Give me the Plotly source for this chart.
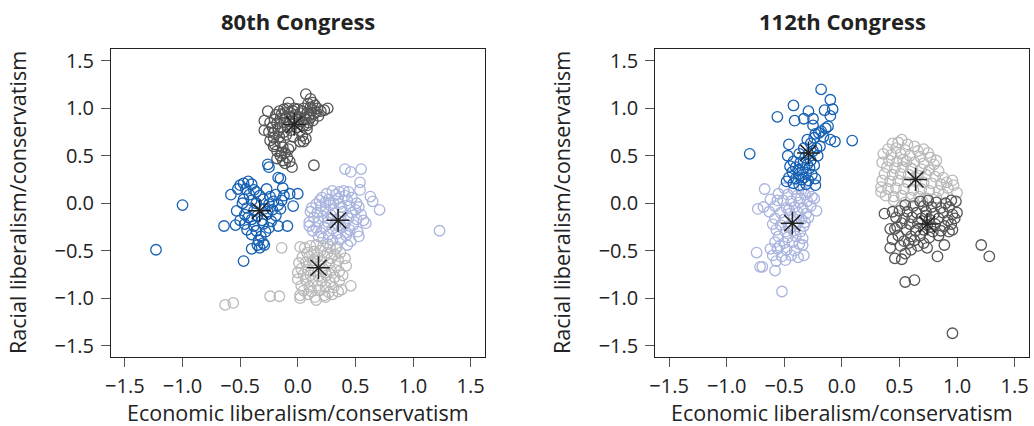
import plotly.graph_objects as go

# ---------------- 80th Congress ----------------
c80_dkgray = [(0.07,1.15),(0.11,1.10),(0.13,1.06),(0.09,1.05),(0.15,1.03),(0.17,1.00),(0.23,0.98),(0.26,1.00),(0.12,0.98),(0.05,1.00),(0.00,0.99),(-0.03,1.00),(-0.08,1.06),(-0.09,1.00),(-0.12,0.99),(-0.16,0.97),(-0.26,0.97),(-0.19,0.93),(-0.14,0.94),(-0.06,0.95),(0.02,0.95),(0.08,0.95),(0.14,0.94),(0.18,0.92),(0.11,0.90),(0.06,0.90),(0.00,0.91),(-0.05,0.90),(-0.10,0.91),(-0.15,0.89),(-0.20,0.88),(-0.29,0.87),(-0.24,0.85),(-0.18,0.84),(-0.12,0.85),(-0.07,0.86),(0.03,0.86),(0.09,0.85),(0.13,0.87),(0.05,0.82),(-0.01,0.80),(-0.09,0.80),(-0.15,0.80),(-0.22,0.80),(-0.29,0.77),(-0.25,0.75),(-0.21,0.74),(-0.17,0.76),(-0.12,0.75),(-0.06,0.77),(0.02,0.76),(0.08,0.78),(0.04,0.71),(0.07,0.68),(0.02,0.65),(0.05,0.65),(-0.04,0.70),(-0.10,0.72),(-0.16,0.70),(-0.21,0.69),(-0.24,0.66),(-0.20,0.62),(-0.21,0.60),(-0.15,0.64),(-0.13,0.59),(-0.08,0.57),(-0.18,0.55),(-0.11,0.53),(-0.15,0.50),(-0.09,0.48),(-0.18,0.47),(-0.13,0.45),(-0.07,0.44),(-0.11,0.42),(-0.05,0.38),(0.14,0.40),(-0.14,0.53),(-0.06,0.60),(0.10,0.93),(0.04,0.97),(-0.02,0.93),(0.07,0.88),(-0.03,0.84),(0.01,0.88),(0.16,0.96),(0.20,0.97),(-0.11,0.95),(-0.04,0.97),(0.11,1.01),(0.08,0.82)]
c80_blue = [(-1.00,-0.02),(-1.23,-0.49),(-0.26,0.41),(-0.25,0.38),(-0.17,0.27),(-0.15,0.26),(-0.43,0.23),(-0.50,0.19),(-0.47,0.21),(-0.40,0.20),(-0.52,0.15),(-0.45,0.15),(-0.38,0.14),(-0.27,0.15),(-0.13,0.16),(-0.58,0.09),(-0.07,0.10),(0.00,0.10),(-0.36,0.12),(-0.42,0.09),(-0.33,0.08),(-0.24,0.07),(-0.19,0.09),(-0.12,0.08),(-0.47,0.04),(-0.40,0.03),(-0.30,0.04),(-0.21,0.02),(-0.14,0.03),(-0.48,0.00),(-0.36,0.00),(-0.25,-0.01),(-0.17,-0.02),(-0.04,-0.03),(-0.53,-0.08),(-0.44,-0.05),(-0.38,-0.08),(-0.29,-0.06),(-0.22,-0.07),(-0.15,-0.06),(-0.46,-0.12),(-0.35,-0.13),(-0.27,-0.12),(-0.19,-0.13),(-0.40,-0.17),(-0.31,-0.18),(-0.23,-0.19),(-0.64,-0.24),(-0.54,-0.23),(-0.46,-0.22),(-0.38,-0.24),(-0.30,-0.22),(-0.25,-0.26),(-0.17,-0.24),(-0.09,-0.24),(-0.44,-0.28),(-0.36,-0.29),(-0.28,-0.30),(-0.40,-0.33),(-0.32,-0.35),(-0.34,-0.39),(-0.30,-0.42),(-0.35,-0.44),(-0.40,-0.48),(-0.47,-0.61),(-0.33,-0.47),(-0.29,-0.44),(-0.26,-0.09),(-0.43,-0.15),(-0.50,-0.18)]
c80_ltblue = [(0.41,0.36),(0.46,0.33),(0.55,0.36),(0.54,0.22),(0.54,0.14),(0.63,0.07),(0.65,0.02),(0.71,-0.07),(1.23,-0.29),(0.30,0.13),(0.36,0.12),(0.40,0.13),(0.44,0.12),(0.25,0.10),(0.33,0.09),(0.41,0.08),(0.19,0.03),(0.27,0.04),(0.35,0.05),(0.43,0.03),(0.51,0.00),(0.12,-0.05),(0.20,-0.03),(0.28,-0.02),(0.36,-0.01),(0.45,-0.03),(0.53,-0.04),(0.11,-0.09),(0.17,-0.10),(0.24,-0.08),(0.31,-0.07),(0.39,-0.09),(0.47,-0.10),(0.55,-0.12),(0.14,-0.15),(0.22,-0.14),(0.29,-0.13),(0.37,-0.15),(0.44,-0.16),(0.51,-0.17),(0.57,-0.18),(0.59,-0.21),(0.10,-0.20),(0.18,-0.19),(0.26,-0.20),(0.33,-0.21),(0.41,-0.22),(0.48,-0.23),(0.10,-0.24),(0.16,-0.26),(0.23,-0.25),(0.30,-0.27),(0.38,-0.26),(0.45,-0.28),(0.52,-0.30),(0.20,-0.31),(0.27,-0.33),(0.34,-0.32),(0.42,-0.34),(0.53,-0.35),(0.22,-0.37),(0.30,-0.39),(0.37,-0.38),(0.46,-0.40),(0.26,-0.43),(0.34,-0.46),(0.43,-0.44),(0.21,0.06),(0.31,0.00),(0.38,-0.04),(0.26,-0.16),(0.35,-0.24),(0.16,-0.01),(0.24,0.01),(0.47,0.06),(0.50,-0.07),(0.42,-0.31),(0.13,-0.29),(0.18,-0.35)]
c80_ltgray = [(-0.14,-0.47),(-0.63,-1.07),(-0.56,-1.05),(-0.24,-0.98),(-0.16,-0.98),(0.02,-0.46),(0.06,-0.47),(0.11,-0.45),(0.16,-0.44),(0.22,-0.45),(0.28,-0.46),(0.33,-0.48),(0.08,-0.52),(0.14,-0.51),(0.20,-0.50),(0.26,-0.52),(0.32,-0.54),(0.37,-0.52),(0.04,-0.57),(0.10,-0.56),(0.17,-0.57),(0.23,-0.56),(0.29,-0.58),(0.35,-0.60),(0.41,-0.58),(0.01,-0.63),(0.07,-0.62),(0.13,-0.63),(0.20,-0.62),(0.27,-0.64),(0.33,-0.66),(0.42,-0.66),(0.03,-0.69),(0.09,-0.70),(0.15,-0.71),(0.22,-0.69),(0.29,-0.71),(0.36,-0.72),(0.05,-0.75),(0.11,-0.76),(0.18,-0.77),(0.25,-0.76),(0.32,-0.78),(0.00,-0.80),(0.07,-0.81),(0.13,-0.82),(0.21,-0.82),(0.28,-0.83),(0.36,-0.82),(0.03,-0.87),(0.10,-0.88),(0.17,-0.87),(0.24,-0.88),(0.31,-0.89),(0.46,-0.87),(0.05,-0.92),(0.12,-0.93),(0.19,-0.92),(0.27,-0.94),(0.35,-0.93),(0.38,-0.91),(0.02,-0.97),(0.09,-0.96),(0.15,-0.99),(0.23,-0.97),(0.30,-0.96),(0.02,-1.00),(0.16,-1.02),(0.24,-0.99),(0.14,-0.60),(0.24,-0.73),(0.39,-0.76),(0.00,-0.73)]
c80_means = [(-0.03,0.83),(-0.33,-0.08),(0.35,-0.18),(0.18,-0.68)]

# ---------------- 112th Congress ----------------
c112_blue = [(-0.18,1.20),(-0.10,1.09),(-0.08,0.99),(-0.15,0.98),(-0.10,0.92),(-0.29,0.97),(-0.42,1.03),(-0.56,0.91),(-0.41,0.87),(-0.33,0.89),(-0.25,0.89),(-0.25,0.82),(-0.14,0.79),(-0.12,0.81),(-0.20,0.74),(-0.18,0.76),(-0.06,0.65),(-0.10,0.67),(0.09,0.66),(-0.80,0.52),(-0.46,0.62),(-0.47,0.50),(-0.19,0.60),(-0.24,0.69),(-0.30,0.67),(-0.23,0.73),(-0.27,0.63),(-0.33,0.58),(-0.37,0.52),(-0.25,0.55),(-0.21,0.50),(-0.32,0.48),(-0.27,0.45),(-0.42,0.44),(-0.36,0.43),(-0.30,0.41),(-0.45,0.39),(-0.40,0.38),(-0.34,0.36),(-0.28,0.37),(-0.24,0.40),(-0.43,0.33),(-0.37,0.31),(-0.31,0.32),(-0.26,0.30),(-0.46,0.27),(-0.40,0.26),(-0.35,0.25),(-0.29,0.24),(-0.23,0.26),(-0.42,0.21),(-0.37,0.19),(-0.31,0.20),(-0.23,0.19),(-0.48,0.23),(-0.33,0.27),(-0.38,0.35),(-0.29,0.52),(-0.22,0.58),(-0.16,0.70)]
c112_ltblue = [(-0.67,0.15),(-0.73,-0.06),(-0.56,0.03),(-0.22,-0.08),(-0.24,0.05),(-0.74,-0.52),(-0.71,-0.67),(-0.69,-0.67),(-0.58,-0.71),(-0.52,-0.93),(-0.62,-0.48),(-0.33,-0.55),(-0.34,-0.44),(-0.50,0.16),(-0.42,0.15),(-0.35,0.14),(-0.29,0.12),(-0.55,0.10),(-0.47,0.09),(-0.39,0.08),(-0.32,0.09),(-0.26,0.07),(-0.62,0.04),(-0.51,0.03),(-0.44,0.02),(-0.37,0.01),(-0.30,0.02),(-0.68,-0.04),(-0.58,-0.03),(-0.48,-0.05),(-0.41,-0.04),(-0.34,-0.05),(-0.27,-0.03),(-0.63,-0.09),(-0.53,-0.10),(-0.45,-0.11),(-0.38,-0.10),(-0.31,-0.11),(-0.58,-0.16),(-0.50,-0.17),(-0.42,-0.16),(-0.35,-0.17),(-0.29,-0.15),(-0.60,-0.22),(-0.53,-0.23),(-0.46,-0.24),(-0.39,-0.22),(-0.33,-0.24),(-0.57,-0.28),(-0.49,-0.30),(-0.42,-0.29),(-0.36,-0.30),(-0.55,-0.35),(-0.47,-0.36),(-0.40,-0.35),(-0.34,-0.37),(-0.58,-0.41),(-0.50,-0.42),(-0.43,-0.41),(-0.37,-0.43),(-0.56,-0.48),(-0.48,-0.49),(-0.41,-0.50),(-0.60,-0.55),(-0.52,-0.56),(-0.44,-0.55),(-0.38,-0.57),(-0.57,-0.61),(-0.49,-0.60),(-0.54,-0.45),(-0.45,-0.26),(-0.36,0.05),(-0.46,-0.07),(-0.32,-0.20)]
c112_ltgray = [(0.52,0.67),(0.44,0.63),(0.49,0.64),(0.57,0.62),(0.63,0.60),(0.71,0.57),(0.40,0.57),(0.47,0.58),(0.55,0.56),(0.66,0.55),(0.75,0.53),(0.36,0.52),(0.43,0.51),(0.51,0.52),(0.59,0.50),(0.68,0.49),(0.77,0.48),(0.82,0.45),(0.35,0.43),(0.41,0.45),(0.48,0.44),(0.56,0.44),(0.63,0.43),(0.71,0.42),(0.80,0.41),(0.39,0.38),(0.46,0.37),(0.53,0.38),(0.61,0.36),(0.69,0.36),(0.76,0.35),(0.84,0.34),(0.37,0.31),(0.44,0.30),(0.51,0.31),(0.58,0.30),(0.66,0.29),(0.73,0.30),(0.81,0.28),(0.35,0.24),(0.42,0.23),(0.49,0.24),(0.57,0.22),(0.64,0.23),(0.71,0.22),(0.78,0.21),(0.86,0.20),(0.96,0.24),(0.97,0.19),(0.34,0.17),(0.40,0.15),(0.47,0.16),(0.54,0.15),(0.62,0.14),(0.69,0.15),(0.76,0.13),(0.84,0.13),(0.92,0.16),(1.00,0.11),(0.34,0.12),(0.38,0.08),(0.45,0.07),(0.52,0.08),(0.60,0.06),(0.67,0.07),(0.74,0.05),(0.82,0.06),(0.88,0.09),(0.45,0.03),(0.55,0.01),(0.63,0.00),(0.70,0.02),(0.52,-0.03),(0.60,0.37),(0.53,0.46),(0.88,0.27),(0.91,0.22)]
c112_dkgray = [(1.21,-0.44),(1.28,-0.56),(0.96,-1.37),(0.55,-0.83),(0.63,-0.81),(0.83,-0.56),(0.89,-0.44),(0.46,-0.58),(0.52,-0.59),(0.55,-0.53),(0.58,-0.42),(0.63,-0.39),(0.71,-0.42),(0.37,-0.11),(0.42,-0.27),(0.42,-0.47),(0.44,-0.38),(0.96,-0.28),(1.00,-0.10),(0.99,0.02),(0.68,0.02),(0.75,0.03),(0.82,0.01),(0.90,0.00),(0.95,0.03),(0.55,-0.02),(0.62,-0.03),(0.71,-0.03),(0.78,-0.04),(0.86,-0.05),(0.93,-0.04),(0.44,-0.09),(0.50,-0.08),(0.57,-0.09),(0.65,-0.10),(0.73,-0.09),(0.80,-0.11),(0.88,-0.10),(0.96,-0.12),(0.47,-0.15),(0.54,-0.16),(0.61,-0.15),(0.69,-0.16),(0.76,-0.17),(0.84,-0.16),(0.92,-0.18),(0.98,-0.16),(0.52,-0.21),(0.59,-0.22),(0.66,-0.21),(0.74,-0.23),(0.81,-0.22),(0.89,-0.24),(0.95,-0.22),(0.46,-0.27),(0.56,-0.28),(0.64,-0.29),(0.71,-0.28),(0.79,-0.30),(0.86,-0.29),(0.93,-0.30),(0.49,-0.34),(0.60,-0.35),(0.68,-0.34),(0.76,-0.36),(0.84,-0.34),(0.54,-0.40),(0.66,-0.45),(0.74,-0.47),(0.60,-0.49),(0.51,-0.45),(0.48,-0.25),(0.73,-0.13),(0.77,-0.25)]
c112_means = [(-0.29,0.53),(-0.43,-0.21),(0.64,0.25),(0.74,-0.22)]

titles = ["80th Congress", "112th Congress"]
x_title = "Economic liberalism/conservatism"
y_title = "Racial liberalism/conservatism"
tick_vals = [-1.5, -1.0, -0.5, 0.0, 0.5, 1.0, 1.5]

COL_BLUE = "#1560b3"
COL_LTBLUE = "#a9b4de"
COL_DKGRAY = "#555555"
COL_LTGRAY = "#b9b9b9"
COL_STAR = "#222222"
FONT = "Open Sans"

fig = go.Figure()

def add_group(pts, color, xa, ya):
    fig.add_trace(go.Scatter(
        x=[p[0] for p in pts], y=[p[1] for p in pts], mode="markers",
        marker=dict(symbol="circle-open", size=10.5, color=color, line=dict(width=1.3, color=color)),
        xaxis=xa, yaxis=ya, showlegend=False, hoverinfo="skip"))

def add_means(pts, xa, ya):
    fig.add_trace(go.Scatter(
        x=[p[0] for p in pts], y=[p[1] for p in pts], mode="markers",
        marker=dict(symbol="asterisk-open", size=19, color=COL_STAR, line=dict(width=1.5, color=COL_STAR)),
        xaxis=xa, yaxis=ya, showlegend=False, hoverinfo="skip"))

add_group(c80_ltblue, COL_LTBLUE, "x", "y")
add_group(c80_ltgray, COL_LTGRAY, "x", "y")
add_group(c80_blue, COL_BLUE, "x", "y")
add_group(c80_dkgray, COL_DKGRAY, "x", "y")
add_means(c80_means, "x", "y")

add_group(c112_ltblue, COL_LTBLUE, "x2", "y2")
add_group(c112_blue, COL_BLUE, "x2", "y2")
add_group(c112_ltgray, COL_LTGRAY, "x2", "y2")
add_group(c112_dkgray, COL_DKGRAY, "x2", "y2")
add_means(c112_means, "x2", "y2")

axis_common = dict(
    range=[-1.62, 1.625], tickvals=tick_vals, tickformat=".1f",
    showgrid=False, zeroline=False, showline=True, mirror=True,
    linecolor="#222222", linewidth=1, ticks="outside", ticklen=9,
    tickcolor="#555555", tickwidth=1, automargin=False,
    tickfont=dict(family=FONT, size=20, color="#222222"),
)

fig.update_layout(
    width=1034, height=426,
    margin=dict(l=0, r=0, t=0, b=0),
    paper_bgcolor="white", plot_bgcolor="white",
    xaxis=dict(domain=[0.1074, 0.4691], anchor="y", ticklabelstandoff=2, **axis_common),
    yaxis=dict(domain=[0.162, 0.885], anchor="x", ticklabelstandoff=3, **axis_common),
    xaxis2=dict(domain=[0.6337, 0.9952], anchor="y2", ticklabelstandoff=2, **axis_common),
    yaxis2=dict(domain=[0.162, 0.885], anchor="x2", ticklabelstandoff=3, **axis_common),
)

# panel centres in pixels
for i, (cx, ylab_x) in enumerate([(298, 17), (842, 561)]):
    fig.add_annotation(x=cx / 1034, y=1 - 21 / 426, xref="paper", yref="paper",
                       text="<b>%s</b>" % titles[i], showarrow=False,
                       font=dict(family=FONT, size=22, color="#222222"),
                       xanchor="center", yanchor="middle")
    fig.add_annotation(x=cx / 1034, y=1 - 412 / 426, xref="paper", yref="paper",
                       text=x_title, showarrow=False,
                       font=dict(family=FONT, size=21.5, color="#222222"),
                       xanchor="center", yanchor="middle")
    fig.add_annotation(x=ylab_x / 1034, y=1 - 203 / 426, xref="paper", yref="paper",
                       text=y_title, showarrow=False, textangle=-90,
                       font=dict(family=FONT, size=21.5, color="#222222"),
                       xanchor="center", yanchor="middle")

fig.write_html("out.html")
